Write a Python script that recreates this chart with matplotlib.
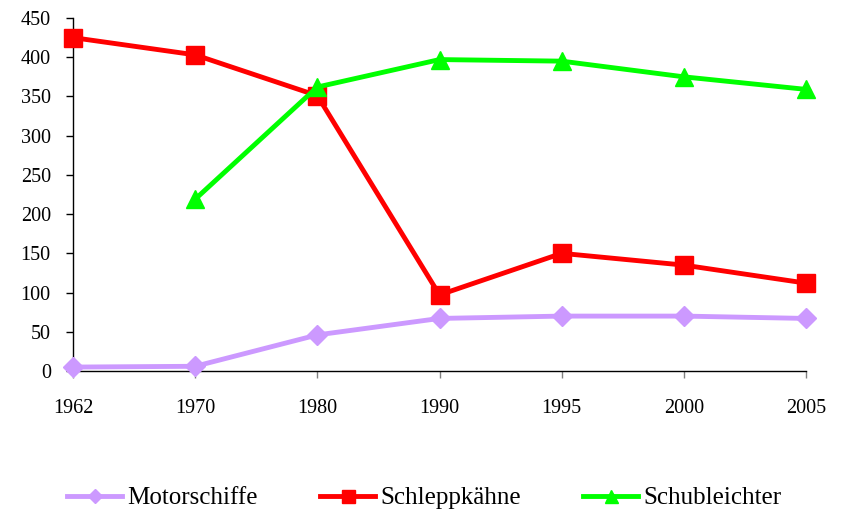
import matplotlib.pyplot as plt

years = ["1962", "1970", "1980", "1990", "1995", "2000", "2005"]
motorschiffe = [5, 6, 46, 67, 70, 70, 67]
schleppkaehne = [425, 403, 351, 97, 150, 135, 112]
schubleichter = [None, 219, 362, 397, 395, 375, 359]
y_ticks = [0, 50, 100, 150, 200, 250, 300, 350, 400, 450]

plt.rcParams['font.family'] = ['Liberation Serif', 'DejaVu Serif']

fig = plt.figure(figsize=(8.46, 5.13), dpi=100)
ax = fig.add_axes([73 / 846, 1 - 371 / 513, (806 - 73) / 846, (371 - 18) / 513])

x = list(range(len(years)))
x_sl = [i for i, v in zip(x, schubleichter) if v is not None]
v_sl = [v for v in schubleichter if v is not None]

ax.plot(x, motorschiffe, color="#CC99FF", lw=3.5, marker="D", ms=10.5,
        label="Motorschiffe", clip_on=False, zorder=3)
ax.plot(x, schleppkaehne, color="#FF0000", lw=3.5, marker="s", ms=13,
        label="Schleppkähne", clip_on=False, zorder=4)
ax.plot(x_sl, v_sl, color="#00FF00", lw=3.5, marker="^", ms=13,
        label="Schubleichter", clip_on=False, zorder=5)

ax.set_xlim(0, len(years) - 1)
ax.set_ylim(0, 450)
ax.set_xticks(x)
ax.set_xticklabels(years)
ax.set_yticks(y_ticks)

for side in ["top", "right"]:
    ax.spines[side].set_visible(False)
ax.spines["left"].set_linewidth(1)
ax.spines["bottom"].set_linewidth(1)

ax.tick_params(axis="y", direction="out", length=5, width=1, labelsize=14.5, pad=11)
ax.tick_params(axis="x", direction="out", length=5, width=1, labelsize=14.5, pad=15,
               color="#808080")

fig.legend(loc="center left", bbox_to_anchor=(67 / 846, 1 - 498 / 513), ncol=3,
           frameon=False, fontsize=18, columnspacing=2.5, handlelength=2.2,
           handletextpad=0.2, markerscale=0.72, borderpad=0, borderaxespad=0)

fig.savefig("out.png", dpi=100)
